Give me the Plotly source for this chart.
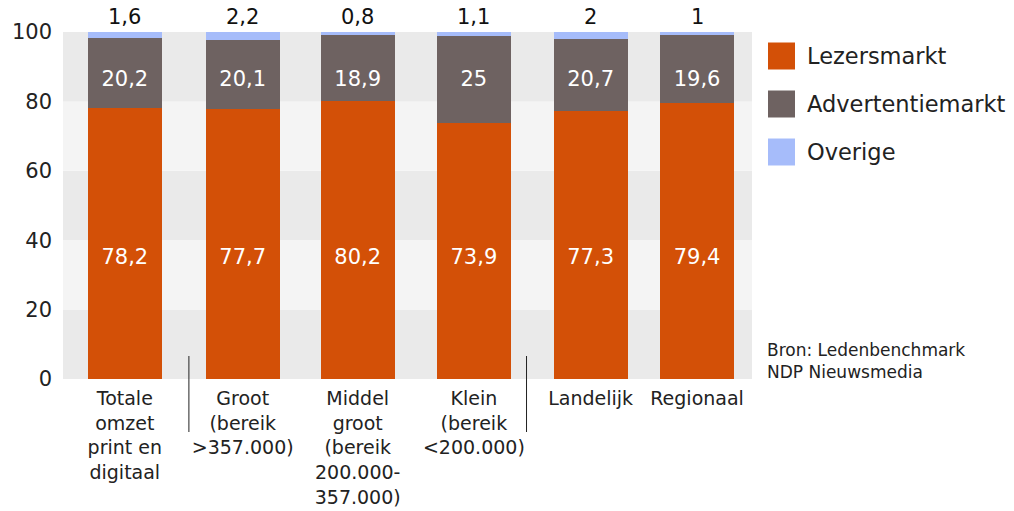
import plotly.graph_objects as go

categories = [
    "Totale<br>omzet<br>print en<br>digitaal",
    "Groot<br>(bereik<br>>357.000)",
    "Middel<br>groot<br>(bereik<br>200.000-<br>357.000)",
    "Klein<br>(bereik<br><200.000)",
    "Landelijk",
    "Regionaal",
]
lezersmarkt = [78.2, 77.7, 80.2, 73.9, 77.3, 79.4]
advertentiemarkt = [20.2, 20.1, 18.9, 25, 20.7, 19.6]
overige = [1.6, 2.2, 0.8, 1.1, 2, 1]
series_names = ["Lezersmarkt", "Advertentiemarkt", "Overige"]
y_ticks = [0, 20, 40, 60, 80, 100]

colors = ["#d35007", "#6e6261", "#a6bcfa"]
FONT = "DejaVu Sans, Verdana, sans-serif"

# horizontal slot of each bar (slightly uneven spacing between groups)
slot_x = [0, 1.03, 2.035, 3.05, 4.07, 5.0]
# heights at which the white value rows are written
row_y = {"lezers": 34.6, "advert": 86.0}


def fmt(v):
    return f"{v:g}".replace(".", ",")


fig = go.Figure()

for vals, name, col in zip([lezersmarkt, advertentiemarkt, overige],
                           series_names, colors):
    fig.add_trace(go.Bar(
        x=slot_x, y=vals, name=name,
        marker=dict(color=col, line=dict(width=0)),
        width=0.645, showlegend=False, hoverinfo="name+y",
    ))

# white value labels inside the segments
for vals, key in [(lezersmarkt, "lezers"), (advertentiemarkt, "advert")]:
    fig.add_trace(go.Scatter(
        x=slot_x, y=[row_y[key]] * len(vals), mode="text",
        text=[fmt(v) for v in vals], textposition="middle center",
        textfont=dict(color="white", size=21, family=FONT),
        cliponaxis=False, showlegend=False, hoverinfo="skip",
    ))

annotations = []
# "Overige" values written above each stack
for xi, a, b, c in zip(slot_x, lezersmarkt, advertentiemarkt, overige):
    annotations.append(dict(
        xref="x", yref="y", x=xi, y=min(a + b + c, 100), text=fmt(c),
        showarrow=False, xanchor="center", yanchor="bottom", yshift=1,
        font=dict(size=21, color="#111", family=FONT),
    ))

# alternating horizontal bands behind the bars
shapes = []
for i in range(5):
    shapes.append(dict(
        type="rect", xref="paper", yref="y", x0=0, x1=1,
        y0=y_ticks[i], y1=y_ticks[i + 1],
        fillcolor="#eaeaea" if i % 2 == 0 else "#f4f4f4",
        line=dict(width=0), layer="below",
    ))

# group separators across the axis line
for sx in [0.56, 3.51]:
    shapes.append(dict(
        type="line", xref="x", yref="paper", x0=sx, x1=sx,
        y0=(379 - 356) / 347, y1=-(432 - 379) / 347,
        line=dict(color="#222", width=1),
    ))

# legend drawn as squares and labels
for i, (name, col) in enumerate(zip(series_names, colors)):
    yc = 56 + 48 * i
    shapes.append(dict(
        type="rect", xref="paper", yref="paper",
        x0=(768 - 63) / 689, x1=(795 - 63) / 689,
        y0=1 - (yc - 13.5 - 32) / 347, y1=1 - (yc + 13.5 - 32) / 347,
        fillcolor=col, line=dict(width=0),
    ))
    annotations.append(dict(
        xref="paper", yref="paper", x=(805 - 63) / 689,
        y=1 - (yc - 32) / 347, text=name, showarrow=False,
        xanchor="left", yanchor="middle",
        font=dict(size=22.5, color="#222", family=FONT),
    ))

annotations.append(dict(
    xref="paper", yref="paper", x=(765 - 63) / 689, y=1 - (361 - 32) / 347,
    text="Bron: Ledenbenchmark<br>NDP Nieuwsmedia", showarrow=False,
    xanchor="left", yanchor="middle", align="left",
    font=dict(size=17, color="#222", family=FONT),
))

fig.update_layout(
    barmode="stack",
    width=1014, height=511,
    margin=dict(l=63, r=262, t=32, b=132, autoexpand=False),
    paper_bgcolor="white", plot_bgcolor="white",
    font=dict(family=FONT, color="#222"),
    shapes=shapes, annotations=annotations,
    xaxis=dict(
        tickmode="array", tickvals=slot_x, ticktext=categories,
        range=[-0.54, 5.48], showgrid=False, zeroline=False, ticks="",
        ticklabelstandoff=6, automargin=False,
        tickfont=dict(size=19, color="#222", family=FONT),
        fixedrange=True,
    ),
    yaxis=dict(
        range=[0, 100], tickvals=y_ticks, showgrid=False, zeroline=False,
        ticks="", ticklabelstandoff=10, automargin=False,
        tickfont=dict(size=21, color="#222", family=FONT),
        fixedrange=True,
    ),
)

fig.write_html("out.html")
